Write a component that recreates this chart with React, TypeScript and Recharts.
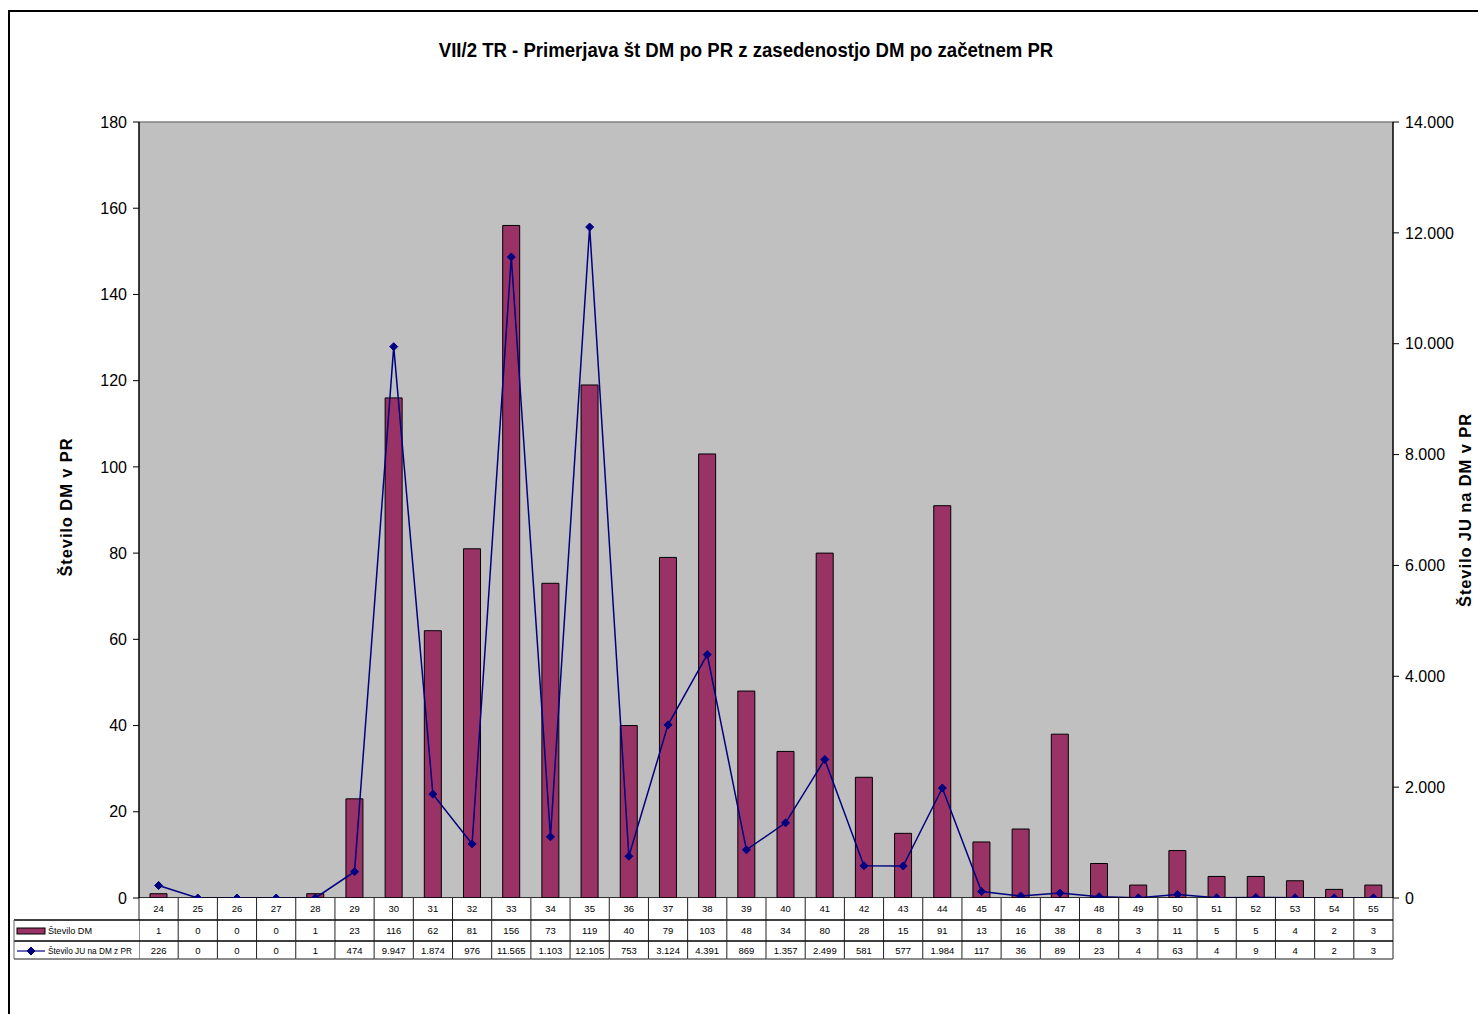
import React from 'react';
import { ComposedChart, Bar, Line, XAxis, YAxis, CartesianGrid, ReferenceLine } from 'recharts';

// Data (table below the plot)
const categories = ['24', '25', '26', '27', '28', '29', '30', '31', '32', '33', '34', '35', '36', '37', '38', '39',
  '40', '41', '42', '43', '44', '45', '46', '47', '48', '49', '50', '51', '52', '53', '54', '55'];
const dmCounts = [1, 0, 0, 0, 1, 23, 116, 62, 81, 156, 73, 119, 40, 79, 103, 48,
  34, 80, 28, 15, 91, 13, 16, 38, 8, 3, 11, 5, 5, 4, 2, 3];
const juCounts = [226, 0, 0, 0, 1, 474, 9947, 1874, 976, 11565, 1103, 12105, 753, 3124, 4391, 869,
  1357, 2499, 581, 577, 1984, 117, 36, 89, 23, 4, 63, 4, 9, 4, 2, 3];
const leftTicks = [0, 20, 40, 60, 80, 100, 120, 140, 160, 180];
const rightTicks = [0, 2000, 4000, 6000, 8000, 10000, 12000, 14000];

const DM_NAME = 'Število DM';
const JU_NAME = 'Število JU na DM z PR';

const BAR_COLOR = '#993366';
const LINE_COLOR = '#000080';
const SANS = '"Liberation Sans", Arial, sans-serif';

const data = categories.map((pr, i) => ({ pr, dm: dmCounts[i], ju: juCounts[i] }));

// 12105 -> "12.105"
const fmt = (n: number) => String(n).replace(/\B(?=(\d{3})+(?!\d))/g, '.');

const Diamond = (props: any) => {
  const { cx, cy } = props;
  if (cx == null || cy == null) return null;
  const r = 4;
  return (
    <polygon
      points={`${cx},${cy - r} ${cx + r},${cy} ${cx},${cy + r} ${cx - r},${cy}`}
      fill={LINE_COLOR}
      stroke={LINE_COLOR}
    />
  );
};

// Row heights of the data table under the axis
const ROW1 = 22;
const ROW2 = 21;
const ROW3 = 18;
const LEGEND_LEFT = 6;

// each x tick renders one column of the data table
const TableTick = (props: any) => {
  const { x, y, payload, index, width } = props;
  const bw = (width || 1254) / categories.length;
  const left = x - bw / 2;
  const right = x + bw / 2;
  const i = categories.indexOf(String(payload.value));
  const y1 = y + ROW1;
  const y2 = y1 + ROW2;
  const y3 = y2 + ROW3;
  const txt = { fontFamily: SANS, fontSize: 9.5, fill: '#000', textAnchor: 'middle' as const };
  return (
    <g>
      <rect x={left} y={y} width={bw} height={ROW1 + ROW2 + ROW3} fill="#fff" />
      <line x1={left} y1={y} x2={left} y2={y3} stroke="#222" />
      {index === categories.length - 1 && <line x1={right} y1={y} x2={right} y2={y3} stroke="#222" />}
      <line x1={left} y1={y1} x2={right} y2={y1} stroke="#000" strokeWidth={1.5} />
      <line x1={left} y1={y2} x2={right} y2={y2} stroke="#000" strokeWidth={1.5} />
      <line x1={left} y1={y3} x2={right} y2={y3} stroke="#666" strokeWidth={1.5} />
      <text x={x} y={y + 14} {...txt}>{payload.value}</text>
      <text x={x} y={y1 + 14} {...txt}>{dmCounts[i]}</text>
      <text x={x} y={y2 + 13} {...txt}>{fmt(juCounts[i])}</text>
      {index === 0 && (
        <g>
          <rect x={LEGEND_LEFT} y={y1} width={left - LEGEND_LEFT} height={ROW2 + ROW3} fill="#fff" />
          <line x1={LEGEND_LEFT} y1={y1} x2={left} y2={y1} stroke="#000" strokeWidth={1.5} />
          <line x1={LEGEND_LEFT} y1={y2} x2={left} y2={y2} stroke="#000" strokeWidth={1.5} />
          <line x1={LEGEND_LEFT} y1={y3} x2={left} y2={y3} stroke="#666" strokeWidth={1.5} />
          <line x1={LEGEND_LEFT} y1={y1} x2={LEGEND_LEFT} y2={y3} stroke="#666" />
          <rect x={LEGEND_LEFT + 3} y={y1 + 8} width={28} height={6} fill={BAR_COLOR} stroke="#000" />
          <text x={LEGEND_LEFT + 34} y={y1 + 14} fontFamily={SANS} fontSize={9.5} fill="#000"
            textLength={44} lengthAdjust="spacingAndGlyphs">{DM_NAME}</text>
          <line x1={LEGEND_LEFT + 3} y1={y2 + 10} x2={LEGEND_LEFT + 31} y2={y2 + 10} stroke={LINE_COLOR} strokeWidth={1.2} />
          <Diamond cx={LEGEND_LEFT + 17} cy={y2 + 10} />
          <text x={LEGEND_LEFT + 34} y={y2 + 13} fontFamily={SANS} fontSize={9.5} fill="#000"
            textLength={84} lengthAdjust="spacingAndGlyphs">{JU_NAME}</text>
        </g>
      )}
    </g>
  );
};

export default function App() {
  const axisTick = { fill: '#000', fontSize: 16, fontFamily: SANS };
  const axisTitle = {
    position: 'absolute' as const, whiteSpace: 'nowrap' as const, fontFamily: SANS, fontWeight: 'bold',
    fontSize: 16.5, letterSpacing: 0.9, color: '#000', transform: 'translate(-50%, -50%) rotate(-90deg)',
  };
  return (
    <div style={{ position: 'fixed', left: 0, top: 0, width: 1478, height: 1014, overflow: 'hidden', background: '#fff' }}>
      <style>{'html, body { overflow: hidden; }'}</style>
      <div style={{ position: 'absolute', left: 8, top: 8, width: 1470, height: 1006 }}>
        {/* outer chart border */}
        <div
          style={{
            position: 'absolute', left: 0, top: 2, width: 1480, height: 1020,
            borderTop: '2px solid #000', borderLeft: '2px solid #000',
          }}
        />
        <div
          style={{
            position: 'absolute', left: 738, top: 30, transform: 'translateX(-50%) scaleX(0.885)',
            whiteSpace: 'nowrap', fontFamily: SANS, fontWeight: 'bold', fontSize: 21, color: '#000',
          }}
        >
          VII/2 TR - Primerjava št DM po PR z zasedenostjo DM po začetnem PR
        </div>
        <div style={{ ...axisTitle, left: 58, top: 499 }}>Število DM v PR</div>
        <div style={{ ...axisTitle, left: 1457, top: 502 }}>Število JU na DM v PR</div>
        <div style={{ position: 'absolute', left: 0, top: 0 }}>
          <ComposedChart
            width={1470}
            height={1000}
            data={data}
            margin={{ top: 114, left: 71, right: 15, bottom: 49 }}
            barSize={17}
          >
            <CartesianGrid fill="#c0c0c0" horizontal={false} vertical={false} />
            <XAxis
              dataKey="pr"
              xAxisId={0}
              interval={0}
              height={61}
              tickSize={0}
              tickMargin={0}
              tickLine={false}
              axisLine={{ stroke: '#000', strokeWidth: 1.5 }}
              tick={<TableTick />}
            />
            <YAxis
              yAxisId="left"
              orientation="left"
              width={60}
              domain={[0, 180]}
              ticks={leftTicks}
              interval={0}
              tick={axisTick}
              tickSize={6}
              tickMargin={6}
              tickLine={{ stroke: '#000' }}
              axisLine={{ stroke: '#000', strokeWidth: 1.5 }}
            />
            <YAxis
              yAxisId="right"
              orientation="right"
              width={70}
              domain={[0, 14000]}
              ticks={rightTicks}
              interval={0}
              tickFormatter={fmt}
              tick={axisTick}
              tickSize={6}
              tickMargin={6}
              tickLine={{ stroke: '#000' }}
              axisLine={{ stroke: '#000', strokeWidth: 1.5 }}
            />
            <ReferenceLine yAxisId="left" y={180} stroke="#808080" strokeWidth={1.5} />
            <Bar
              yAxisId="left"
              dataKey="dm"
              name={DM_NAME}
              fill={BAR_COLOR}
              stroke="#000"
              strokeWidth={1}
              isAnimationActive={false}
            />
            <Line
              yAxisId="right"
              type="linear"
              dataKey="ju"
              name={JU_NAME}
              stroke={LINE_COLOR}
              strokeWidth={1.5}
              dot={<Diamond />}
              activeDot={false}
              isAnimationActive={false}
            />
          </ComposedChart>
        </div>
      </div>
    </div>
  );
}
